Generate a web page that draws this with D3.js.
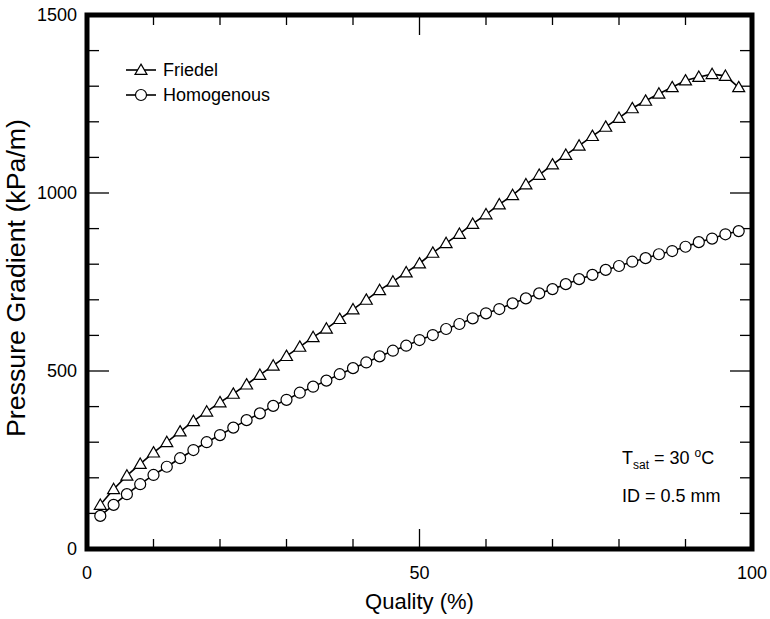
<!DOCTYPE html>
<html lang="en">
<head>
<meta charset="UTF-8">
<title>Pressure Gradient vs Quality</title>
<script src="https://d3js.org/d3.v7.min.js"></script>
<style>
    body { margin: 0; background: #fff; }
    svg text { font-family: "Liberation Sans", Arial, sans-serif; fill: #000; }
    .tick-label { font-size: 18px; }
    .axis-title { font-size: 22px; }
    .y-title { font-size: 25px; }
    .legend text, .note { font-size: 18px; }
</style>
</head>
<body>
<svg width="770" height="619"></svg>
<script>
    // Quality (%) values
    const quality = [2, 4, 6, 8, 10, 12, 14, 16, 18, 20, 22, 24, 26, 28, 30, 32, 34, 36, 38, 40,
                     42, 44, 46, 48, 50, 52, 54, 56, 58, 60, 62, 64, 66, 68, 70, 72, 74, 76, 78, 80,
                     82, 84, 86, 88, 90, 92, 94, 96, 98];

    // Friedel correlation (kPa/m)
    const friedel = [124, 168, 206, 239, 271, 300, 330, 359, 386, 412, 436, 462, 489, 515, 542, 568, 595, 619, 646, 673,
                     700, 727, 751, 777, 802, 832, 859, 885, 913, 940, 968, 994, 1024, 1051, 1080, 1107, 1133, 1160, 1186, 1211,
                     1238, 1259, 1279, 1297, 1316, 1326, 1334, 1329, 1297];

    // Homogenous model (kPa/m)
    const homogenous = [93, 124, 154, 182, 208, 231, 255, 278, 300, 320, 341, 362, 381, 402, 419, 439, 456, 473, 491, 508,
                        524, 541, 557, 571, 587, 601, 618, 632, 648, 662, 674, 690, 704, 718, 730, 744, 758, 770, 784, 795,
                        807, 817, 828, 837, 849, 862, 872, 884, 893];

    const xMajor = [0, 50, 100];
    const yMajor = [0, 500, 1000, 1500];

    const margin = {top: 15, right: 18, bottom: 70, left: 87},
          width = 770 - margin.left - margin.right,
          height = 619 - margin.top - margin.bottom;

    const svg = d3.select("svg")
        .append("g")
        .attr("transform", "translate(" + margin.left + "," + margin.top + ")");

    const x = d3.scaleLinear().domain([0, 100]).range([0, width]);
    const y = d3.scaleLinear().domain([0, 1500]).range([height, 0]);

    // ticks: minor every 10 (x) / 100 (y), long ones at the labelled values
    const xMinor = d3.range(10, 100, 10);
    const yMinor = d3.range(100, 1500, 100);

    const ticks = svg.append("g").attr("stroke", "#000").attr("stroke-width", 1.3);
    xMinor.forEach(v => {
        const len = v === 50 ? 20 : 10;
        ticks.append("line").attr("x1", x(v)).attr("x2", x(v)).attr("y1", height).attr("y2", height - len);
        ticks.append("line").attr("x1", x(v)).attr("x2", x(v)).attr("y1", 0).attr("y2", len);
    });
    yMinor.forEach(v => {
        const len = v % 500 === 0 ? 22 : 12;
        ticks.append("line").attr("x1", 0).attr("x2", len).attr("y1", y(v)).attr("y2", y(v));
        ticks.append("line").attr("x1", width).attr("x2", width - len).attr("y1", y(v)).attr("y2", y(v));
    });

    // frame
    svg.append("rect")
        .attr("width", width)
        .attr("height", height)
        .attr("fill", "none")
        .attr("stroke", "#000")
        .attr("stroke-width", 5);

    // tick labels
    svg.selectAll(".xl")
        .data(xMajor)
        .enter().append("text")
        .attr("class", "tick-label")
        .attr("x", d => x(d))
        .attr("y", height + 30)
        .attr("text-anchor", "middle")
        .text(d => d);

    svg.selectAll(".yl")
        .data(yMajor)
        .enter().append("text")
        .attr("class", "tick-label")
        .attr("x", -10)
        .attr("y", d => y(d))
        .attr("dy", "0.35em")
        .attr("text-anchor", "end")
        .text(d => d);

    // axis titles
    svg.append("text")
        .attr("class", "axis-title")
        .attr("x", width / 2)
        .attr("y", height + 60)
        .attr("text-anchor", "middle")
        .text("Quality (%)");

    svg.append("text")
        .attr("class", "y-title")
        .attr("transform", "rotate(-90)")
        .attr("x", -height / 2 + 4)
        .attr("y", -62)
        .attr("text-anchor", "middle")
        .attr("textLength", 318)
        .attr("lengthAdjust", "spacingAndGlyphs")
        .text("Pressure Gradient (kPa/m)");

    const line = d3.line()
        .x((d, i) => x(quality[i]))
        .y(d => y(d));

    const tri = d3.symbol().type(d3.symbolTriangle).size(62);

    function drawSeries(values, kind) {
        svg.append("path")
            .datum(values)
            .attr("fill", "none")
            .attr("stroke", "#000")
            .attr("stroke-width", 1.6)
            .attr("d", line);

        const g = svg.append("g");
        values.forEach((v, i) => {
            if (kind === "tri") {
                g.append("path")
                    .attr("d", tri())
                    .attr("transform", "translate(" + x(quality[i]) + "," + (y(v) + 1) + ")")
                    .attr("fill", "#fff").attr("stroke", "#000").attr("stroke-width", 1.2);
            } else {
                g.append("circle")
                    .attr("cx", x(quality[i])).attr("cy", y(v)).attr("r", 5.5)
                    .attr("fill", "#fff").attr("stroke", "#000").attr("stroke-width", 1.2);
            }
        });
    }

    drawSeries(friedel, "tri");
    drawSeries(homogenous, "circle");

    // legend
    const legend = svg.append("g").attr("class", "legend");
    [["Friedel", "tri"], ["Homogenous", "circle"]].forEach((d, i) => {
        const ly = 55 + i * 25;
        legend.append("line")
            .attr("x1", 39).attr("x2", 69).attr("y1", ly).attr("y2", ly)
            .attr("stroke", "#000").attr("stroke-width", 1.6);
        if (d[1] === "tri") {
            legend.append("path").attr("d", tri())
                .attr("transform", "translate(54," + (ly + 1) + ")")
                .attr("fill", "#fff").attr("stroke", "#000").attr("stroke-width", 1.2);
        } else {
            legend.append("circle").attr("cx", 54).attr("cy", ly).attr("r", 5.5)
                .attr("fill", "#fff").attr("stroke", "#000").attr("stroke-width", 1.2);
        }
        legend.append("text")
            .attr("x", 76).attr("y", ly).attr("dy", "0.35em")
            .text(d[0]);
    });

    // conditions note
    const note = svg.append("text")
        .attr("class", "note")
        .attr("x", 535).attr("y", 449);
    note.append("tspan").text("T");
    note.append("tspan").attr("font-size", "12px").attr("dy", 5).text("sat");
    note.append("tspan").attr("dy", -5).text(" = 30 ");
    note.append("tspan").attr("font-size", "12px").attr("dy", -7).text("o");
    note.append("tspan").attr("dy", 7).text("C");

    svg.append("text")
        .attr("class", "note")
        .attr("x", 535).attr("y", 487)
        .text("ID = 0.5 mm");
</script>
</body>
</html>
